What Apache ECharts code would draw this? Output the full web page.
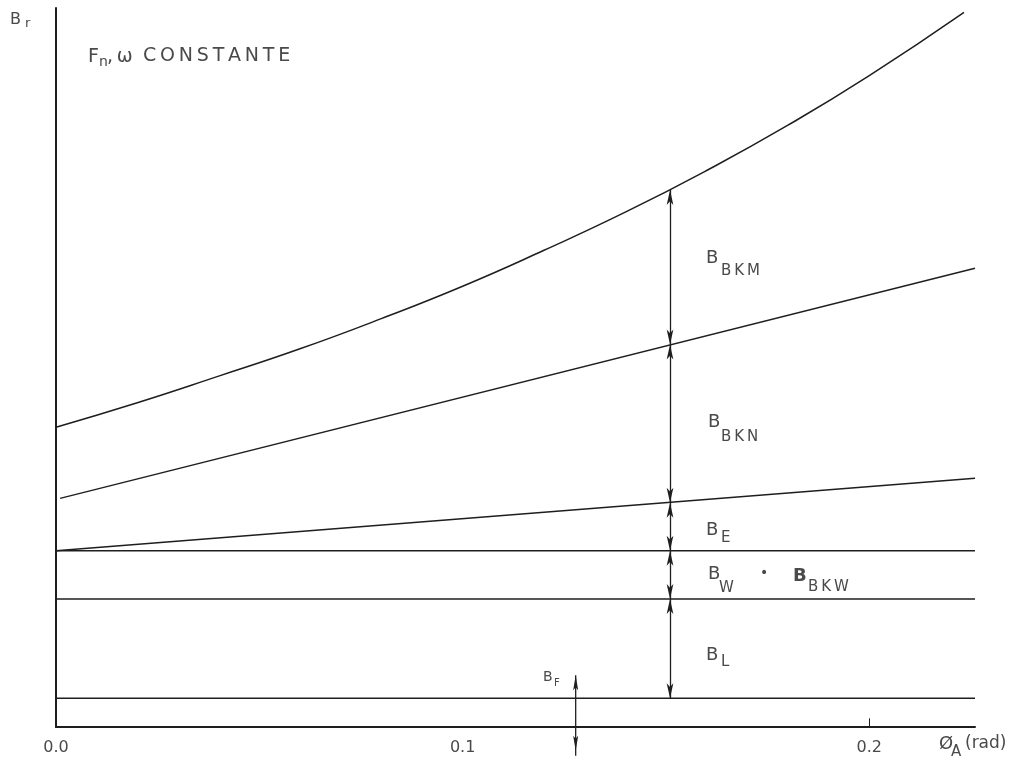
<!DOCTYPE html>
<html>
<head>
<meta charset="utf-8">
<script src="https://cdn.jsdelivr.net/npm/echarts@6/dist/echarts.min.js"></script>
<style>
html,body{margin:0;padding:0;background:#fff;}
#chart{width:1032px;height:782px;}
</style>
</head>
<body>
<div id="chart"></div>
<script>
// ---- data ----
// upper curve (top of B_BKM)
const curveX = [0, 0.02, 0.04, 0.06, 0.08, 0.10, 0.12, 0.14, 0.16, 0.18, 0.20, 0.2233];
const curveY = [41.7, 45.1, 48.8, 52.6, 56.8, 61.3, 66.3, 71.6, 77.4, 83.7, 90.6, 99.4];
// straight line (top of B_BKN)
const lineNX = [0.001, 0.226];
const lineNY = [31.8, 63.8];
// straight line (top of B_E)
const lineEX = [0, 0.226];
const lineEY = [24.5, 34.6];
// horizontal levels
const hLevels = [24.5, 17.8, 4.0];
const hLineX = [0, 0.226];
// dimension arrow at phi = 0.151
const arrowX = 0.151;
const arrowLevels = [74.7, 53.2, 31.2, 24.5, 17.8, 4.0];
// B_F arrow (x, top, bottom)
const bfX = 0.1278;
const bfRange = [7.2, -3.3];
// x tick labels
const xTicks = [0, 0.1, 0.2];

const FONT = '"DejaVu Sans", "Liberation Sans", sans-serif';
const TXT = '#4a4a4a';
const INK = '#1e1e1e';

const zip = (xs, ys) => xs.map((x, i) => [x, ys[i]]);
const T = (text, x, y, size, extra) => ({
  type: 'text', left: x, top: y, silent: true,
  style: Object.assign({ text: text, fontSize: size, fontFamily: FONT, fill: TXT }, extra || {})
});
const sp = s => s.split('').join('\u2009');

const arrowSegs = [];
for (let i = 0; i < arrowLevels.length - 1; i++) {
  arrowSegs.push([{ coord: [arrowX, arrowLevels[i]] }, { coord: [arrowX, arrowLevels[i + 1]] }]);
}

const lineStyle = { color: INK, width: 1.5 };
const series = [
  {
    type: 'line', data: zip(curveX, curveY), smooth: true, symbol: 'none', lineStyle: lineStyle,
    markLine: {
      silent: true, animation: false, symbol: ['arrow', 'arrow'], symbolSize: [5, 15],
      label: { show: false }, lineStyle: { color: INK, width: 1.3, type: 'solid' },
      data: arrowSegs
    }
  },
  { type: 'line', data: zip(lineNX, lineNY), symbol: 'none', lineStyle: lineStyle },
  { type: 'line', data: zip(lineEX, lineEY), symbol: 'none', lineStyle: lineStyle,
    markLine: {
      silent: true, animation: false, symbol: ['none', 'none'], label: { show: false },
      lineStyle: { color: INK, width: 1, type: 'solid' },
      data: [[{ coord: [0.2, 0] }, { coord: [0.2, 1.2] }]]
    }
  },
  {
    type: 'custom', clip: false, silent: true,
    data: [[bfX, bfRange[0], bfRange[1]]],
    renderItem: function (params, api) {
      const p1 = api.coord([api.value(0), api.value(1)]);
      const p2 = api.coord([api.value(0), api.value(2)]);
      return {
        type: 'group', children: [
          { type: 'line', shape: { x1: p1[0], y1: p1[1], x2: p2[0], y2: p2[1] + 5 }, style: { stroke: INK, lineWidth: 1.3 } },
          { type: 'polygon', shape: { points: [[p1[0], p1[1]], [p1[0] - 2.5, p1[1] + 15], [p1[0], p1[1] + 12], [p1[0] + 2.5, p1[1] + 15]] }, style: { fill: INK } },
          { type: 'polygon', shape: { points: [[p2[0], p2[1]], [p2[0] - 2.5, p2[1] - 15], [p2[0], p2[1] - 12], [p2[0] + 2.5, p2[1] - 15]] }, style: { fill: INK } }
        ]
      };
    }
  }
];
hLevels.forEach(v => {
  series.push({ type: 'line', data: hLineX.map(x => [x, v]), symbol: 'none', lineStyle: lineStyle });
});

const option = {
  animation: false,
  backgroundColor: '#fff',
  grid: { left: 56, right: 57, top: 8, bottom: 55, containLabel: false, outerBoundsMode: 'none' },
  xAxis: {
    type: 'value', min: 0, max: 0.226, interval: 0.1,
    axisLine: { show: true, onZero: false, lineStyle: { color: INK, width: 2 } },
    axisTick: { show: false }, splitLine: { show: false },
    axisLabel: {
      show: true, margin: 13, fontSize: 16, fontFamily: FONT, color: TXT, showMaxLabel: false,
      formatter: v => (xTicks.some(t => Math.abs(t - v) < 1e-9) ? v.toFixed(1) : '')
    }
  },
  yAxis: {
    type: 'value', min: 0, max: 100,
    axisLine: { show: true, lineStyle: { color: INK, width: 2 } },
    axisTick: { show: false }, axisLabel: { show: false },
    splitLine: { show: false }
  },
  series: series,
  graphic: [
    T('B', 10, 12, 16), T('r', 25, 17, 13),
    T('F', 88, 48, 19), T('n', 99, 55, 14), T(',\u2009ω', 107, 48, 19),
    T(sp('CONSTANTE'), 143, 47, 19),
    T('B', 706, 249, 18), T(sp('BKM'), 721, 264, 15),
    T('B', 708, 413, 18), T(sp('BKN'), 721, 430, 15),
    T('B', 706, 521, 18), T('E', 721, 531, 15),
    T('B', 708, 565, 18), T('W', 719, 581, 15), T('•', 760, 566, 14),
    T('B', 793, 567, 18, { fontWeight: 'bold' }), T(sp('BKW'), 808, 580, 15),
    T('B', 706, 646, 18), T('L', 721, 655, 15),
    T('B', 543, 670, 14), T('F', 554, 678, 10),
    T('Ø', 939, 735, 18), T('A', 951, 745, 15), T('(rad)', 965, 735, 17)
  ]
};

const chart = echarts.init(document.getElementById('chart'), null, { renderer: 'canvas' });
chart.setOption(option);
</script>
</body>
</html>
